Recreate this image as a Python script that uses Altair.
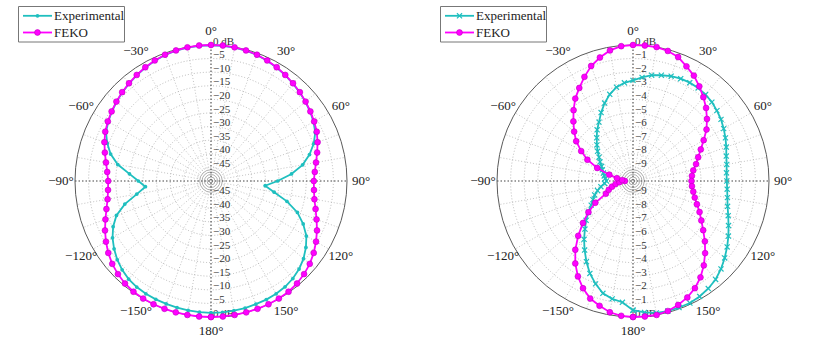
import altair as alt
import pandas as pd

# ---------------- data (dB) ----------------
angles = list(range(-180, 185, 5))

# Left panel: radial scale -50 dB (centre) .. 0 dB (rim)
left_feko = [0, 0, 0, 0, 0, 0, -0.1, -0.3, -0.8, -1.6, -2.6, -3.9, -5.4, -7.0, -8.7, -10.2,
             -11.4, -12.0, -12.2, -11.7, -10.8, -9.6, -8.3, -7.1, -6.2, -5.4, -4.6, -3.8,
             -3.1, -2.4, -1.7, -1.1, -0.6, -0.3, -0.1, 0,
             0,
             0, -0.1, -0.3, -0.6, -1.1, -1.7, -2.4, -3.1, -3.8, -4.6, -5.4, -6.2, -7.1, -8.3,
             -9.6, -10.8, -11.7, -12.2, -12.0, -11.4, -10.2, -8.7, -7.0, -5.4, -3.9, -2.6,
             -1.6, -0.8, -0.3, -0.1, 0, 0, 0, 0, 0, 0]
left_exp = [-1.5, -1.6, -1.7, -1.8, -1.9, -2.0, -2.1, -2.4, -2.9, -3.8, -5.0, -6.5, -8.2,
            -10.3, -13.0, -17.2, -22.3, -25.8, -23.3, -19.9, -15.2, -11.8, -9.4, -7.4, -6.4,
            -5.5, -4.7, -3.9, -3.2, -2.5, -1.8, -1.2, -0.7, -0.4, -0.2, -0.1,
            -0.1,
            -0.1, -0.2, -0.4, -0.7, -1.2, -1.8, -2.5, -3.2, -3.9, -4.7, -5.5, -6.5, -7.7,
            -9.8, -12.5, -15.8, -20.3, -25.5, -30.0, -26.4, -21.1, -16.2, -12.6, -9.5, -7.4,
            -5.6, -4.2, -3.2, -2.5, -2.1, -1.9, -1.8, -1.6, -1.6, -1.5, -1.5]

# Right panel: radial scale -10 dB (centre) .. 0 dB (rim)
right_feko = [0, -0.05, -0.2, -0.5, -0.8, -1.3, -1.9, -2.6, -3.4, -4.3, -5.2, -6.0, -6.8,
              -7.8, -8.1, -8.4, -8.7, -9.0, -9.4, -9.2, -8.8, -8.2, -7.2, -6.3, -5.6, -4.9,
              -4.35, -3.8, -3.2, -2.6, -2.1, -1.55, -1.0, -0.6, -0.25, -0.05,
              0,
              0, 0, -0.1, -0.3, -0.7, -1.05, -1.5, -1.95, -2.4, -2.9, -3.4, -4.0, -4.5, -4.9,
              -5.2, -5.5, -5.65, -5.7, -5.65, -5.5, -5.3, -5.0, -4.6, -4.2, -3.7, -3.1, -2.5,
              -1.9, -1.35, -0.9, -0.55, -0.3, -0.1, 0, 0, 0]
right_exp = [-0.5, -1.05, -1.2, -1.45, -1.95, -2.5, -3.15, -3.8, -4.4, -5.0, -5.5, -6.0,
             -6.45, -6.75, -7.0, -7.3, -7.6, -7.9, -8.05, -7.95, -7.85, -7.75, -7.6, -7.45,
             -7.2, -6.95, -6.6, -6.25, -5.85, -5.4, -5.0, -4.45, -3.9, -3.4, -3.0, -2.75,
             -2.6,
             -2.35, -2.1, -1.95, -1.8, -1.7, -1.65, -1.65, -1.7, -1.8, -1.95, -2.1, -2.3,
             -2.5, -2.7, -2.9, -3.0, -3.1, -3.1, -3.05, -2.95, -2.8, -2.55, -2.25, -1.9,
             -1.55, -1.2, -0.85, -0.55, -0.35, -0.2, -0.1, -0.1, -0.1, -0.15, -0.3, -0.5]

left_ring_levels = [-45, -40, -35, -30, -25, -20, -15, -10, -5]
right_ring_levels = [-9, -8, -7, -6, -5, -4, -3, -2, -1]
left_tick_levels = [0, -5, -10, -15, -20, -25, -30, -35, -40, -45]
left_tick_labels = ["0 dB", "−5", "−10", "−15", "−20", "−25", "−30", "−35", "−40", "−45"]
right_tick_levels = [0, -1, -2, -3, -4, -5, -6, -7, -8, -9]
right_tick_labels = ["0 dB", "−1", "−2", "−3", "−4", "−5", "−6", "−7", "−8", "−9"]
angle_ticks = [0, 30, 60, 90, 120, 150, 180, 210, 240, 270, 300, 330]
angle_tick_labels = ["0°", "30°", "60°", "90°", "120°", "150°", "180°",
                     "−150°", "−120°", "−90°", "−60°", "−30°"]
spoke_angles = [a for a in range(0, 360, 10) if a % 90 != 0]
inner_circle_px = [1.8, 4.0, 6.5, 9.0, 11.3]
series_names = ["Experimental", "FEKO"]

for arr in (left_feko, left_exp, right_feko, right_exp):
    assert len(arr) == len(angles)

# ---------------- layout constants ----------------
R = 136
CY = 181
CYAN = "#1fbfbf"
MAG = "#ff00ff"
SERIF = "Times New Roman, Liberation Serif, DejaVu Serif, serif"
CX_EXPR = "datum.panel == 'A' ? 211 : 633"
DBMIN_EXPR = "datum.panel == 'A' ? -50 : -10"

# ---------------- tables ----------------
curve_rows = []
for panel, feko, exp in (("A", left_feko, left_exp), ("B", right_feko, right_exp)):
    for a, f, e in zip(angles, feko, exp):
        curve_rows.append({"panel": panel, "series": "FEKO", "angle": a, "db": f})
        curve_rows.append({"panel": panel, "series": "Experimental", "angle": a, "db": e})
curves = pd.DataFrame(curve_rows)

rings = pd.DataFrame([{"panel": "A", "db": v} for v in left_ring_levels] +
                     [{"panel": "B", "db": v} for v in right_ring_levels])
outer = pd.DataFrame([{"panel": p, "db": 0} for p in ("A", "B")])
tiny = pd.DataFrame([{"panel": p, "rad": r} for p in ("A", "B") for r in inner_circle_px])
spokes = pd.DataFrame([{"panel": p, "angle": a} for p in ("A", "B") for a in spoke_angles])
axes_df = pd.DataFrame([{"panel": p, "angle": a} for p in ("A", "B") for a in (0, 90)])
rlabels = pd.DataFrame(
    [{"panel": "A", "db": v, "label": t, "side": s}
     for v, t in zip(left_tick_levels, left_tick_labels) for s in (1, -1)] +
    [{"panel": "B", "db": v, "label": t, "side": s}
     for v, t in zip(right_tick_levels, right_tick_labels) for s in (1, -1)])
alabels = pd.DataFrame([{"panel": p, "angle": a, "label": t}
                        for p in ("A", "B") for a, t in zip(angle_ticks, angle_tick_labels)])
legend = pd.DataFrame([{"panel": p, "series": s, "row": i}
                       for p in ("A", "B") for i, s in enumerate(series_names)])
legend_box = pd.DataFrame([{"panel": p} for p in ("A", "B")])

xs = alt.Scale(domain=[0, 825], nice=False, zero=False)
ys = alt.Scale(domain=[0, 349], nice=False, zero=False, reverse=True)


def X(f):
    return alt.X(f, type="quantitative", scale=xs, axis=None)


def Y(f):
    return alt.Y(f, type="quantitative", scale=ys, axis=None)


def polar(ch):
    return (ch.transform_calculate(cx=CX_EXPR, dbmin=DBMIN_EXPR)
              .transform_calculate(r=f"{R} * (datum.db - datum.dbmin) / (-datum.dbmin)")
              .transform_calculate(px="datum.cx + datum.r * sin(datum.angle * PI / 180)",
                                   py=f"{CY} - datum.r * cos(datum.angle * PI / 180)"))


def circles(ch):
    return (ch.transform_calculate(cx=CX_EXPR, dbmin=DBMIN_EXPR)
              .transform_calculate(r=f"{R} * (datum.db - datum.dbmin) / (-datum.dbmin)")
              .transform_calculate(size="4 * datum.r * datum.r", cy=f"{CY}"))


# grid rings
ring_layer = circles(alt.Chart(rings).mark_point(
    shape="circle", filled=False, color="#a8a8a8", strokeWidth=0.8,
    strokeDash=[1, 2], opacity=1)).encode(
    x=X("cx"), y=Y("cy"), size=alt.Size("size:Q", scale=None))

outer_layer = circles(alt.Chart(outer).mark_point(
    shape="circle", filled=False, color="#5a5a5a", strokeWidth=1, opacity=1)).encode(
    x=X("cx"), y=Y("cy"), size=alt.Size("size:Q", scale=None))

tiny_layer = alt.Chart(tiny).mark_point(
    shape="circle", filled=False, color="#8a8a8a", strokeWidth=0.7, opacity=1).transform_calculate(
    cx=CX_EXPR, cy=f"{CY}", size="4 * datum.rad * datum.rad").encode(
    x=X("cx"), y=Y("cy"), size=alt.Size("size:Q", scale=None))

spoke_layer = alt.Chart(spokes).mark_rule(
    color="#b4b4b4", strokeWidth=0.8, strokeDash=[1, 2]).transform_calculate(
    cx=CX_EXPR).transform_calculate(
    x1=f"datum.cx + {R / 10} * sin(datum.angle * PI / 180)",
    y1=f"{CY} - {R / 10} * cos(datum.angle * PI / 180)",
    x2=f"datum.cx + {R} * sin(datum.angle * PI / 180)",
    y2=f"{CY} - {R} * cos(datum.angle * PI / 180)").encode(
    x=X("x1"), y=Y("y1"), x2="x2:Q", y2="y2:Q")

axis_layer = alt.Chart(axes_df).mark_rule(
    color="#444444", strokeWidth=1.1, strokeDash=[1.5, 2]).transform_calculate(
    cx=CX_EXPR).transform_calculate(
    x1=f"datum.cx - {R} * sin(datum.angle * PI / 180)",
    y1=f"{CY} + {R} * cos(datum.angle * PI / 180)",
    x2=f"datum.cx + {R} * sin(datum.angle * PI / 180)",
    y2=f"{CY} - {R} * cos(datum.angle * PI / 180)").encode(
    x=X("x1"), y=Y("y1"), x2="x2:Q", y2="y2:Q")

rlabel_layer = (alt.Chart(rlabels).mark_text(
    align="left", baseline="alphabetic", font=SERIF, fontSize=11, color="#333333", dy=-0.5)
    .transform_calculate(cx=CX_EXPR, dbmin=DBMIN_EXPR)
    .transform_calculate(r=f"{R} * (datum.db - datum.dbmin) / (-datum.dbmin)")
    .transform_calculate(tx="datum.cx + 2", ty=f"{CY} - datum.side * datum.r")
    .encode(x=X("tx"), y=Y("ty"), text="label:N"))

alabel_layer = (alt.Chart(alabels).mark_text(
    align="center", baseline="middle", font=SERIF, fontSize=13, color="#222222")
    .transform_calculate(cx=CX_EXPR)
    .transform_calculate(tx="datum.cx + 150 * sin(datum.angle * PI / 180)",
                         ty=f"{CY} - 150 * cos(datum.angle * PI / 180)")
    .encode(x=X("tx"), y=Y("ty"), text="label:N"))

# data curves
base = polar(alt.Chart(curves))
exp_line = base.transform_filter("datum.series == 'Experimental'").mark_line(
    color=CYAN, strokeWidth=1.8).encode(
    x=X("px"), y=Y("py"), order=alt.Order("angle:Q"), detail="panel:N")
exp_dots = base.transform_filter(
    "datum.series == 'Experimental' && datum.panel == 'A'").mark_circle(
    color=CYAN, size=14, opacity=1).encode(x=X("px"), y=Y("py"))
exp_cross = base.transform_filter(
    "datum.series == 'Experimental' && datum.panel == 'B'").mark_point(
    shape="M-1,-1L1,1M-1,1L1,-1", filled=False, color=CYAN, size=26,
    strokeWidth=1.2, opacity=1).encode(x=X("px"), y=Y("py"))
feko_line = base.transform_filter("datum.series == 'FEKO'").mark_line(
    color=MAG, strokeWidth=1.8).encode(
    x=X("px"), y=Y("py"), order=alt.Order("angle:Q"), detail="panel:N")
feko_pts = base.transform_filter("datum.series == 'FEKO'").mark_point(
    shape="circle", filled=True, fill=MAG, stroke="#c000c0", strokeWidth=0.6,
    size=34, opacity=1).encode(x=X("px"), y=Y("py"))

# legend (box, sample lines, markers, text)
box_layer = alt.Chart(legend_box).mark_rect(
    fill="white", stroke="#777777", strokeWidth=1).transform_calculate(
    cx=CX_EXPR).transform_calculate(
    bx1="datum.cx - 192.5", bx2="datum.cx - 86.5", by1="6.5", by2="42").encode(
    x=X("bx1"), x2="bx2:Q", y=Y("by1"), y2="by2:Q")

leg = alt.Chart(legend).transform_calculate(cx=CX_EXPR).transform_calculate(
    lx1="datum.cx - 188", lx2="datum.cx - 159", mx="datum.cx - 173.5",
    tx="datum.cx - 157", ly="15.8 + 16.7 * datum.row")
leg_exp_line = leg.transform_filter("datum.series == 'Experimental'").mark_rule(
    color=CYAN, strokeWidth=1.8).encode(x=X("lx1"), x2="lx2:Q", y=Y("ly"))
leg_feko_line = leg.transform_filter("datum.series == 'FEKO'").mark_rule(
    color=MAG, strokeWidth=1.8).encode(x=X("lx1"), x2="lx2:Q", y=Y("ly"))
leg_exp_dot = leg.transform_filter(
    "datum.series == 'Experimental' && datum.panel == 'A'").mark_circle(
    color=CYAN, size=14, opacity=1).encode(x=X("mx"), y=Y("ly"))
leg_exp_cross = leg.transform_filter(
    "datum.series == 'Experimental' && datum.panel == 'B'").mark_point(
    shape="M-1,-1L1,1M-1,1L1,-1", filled=False, color=CYAN, size=26,
    strokeWidth=1.2, opacity=1).encode(x=X("mx"), y=Y("ly"))
leg_feko_pt = leg.transform_filter("datum.series == 'FEKO'").mark_point(
    shape="circle", filled=True, fill=MAG, stroke="#c000c0", strokeWidth=0.6,
    size=34, opacity=1).encode(x=X("mx"), y=Y("ly"))
leg_text = leg.mark_text(align="left", baseline="middle", font=SERIF, fontSize=13,
                         color="#222222").encode(x=X("tx"), y=Y("ly"), text="series:N")

chart = alt.layer(
    ring_layer, spoke_layer, tiny_layer, axis_layer, outer_layer, rlabel_layer,
    alabel_layer, exp_line, exp_dots, exp_cross, feko_line, feko_pts,
    box_layer, leg_exp_line, leg_feko_line, leg_exp_dot, leg_exp_cross, leg_feko_pt,
    leg_text,
).properties(
    width=825, height=349,
    autosize=alt.AutoSizeParams(type="none"),
    padding=0,
    background="white",
).configure_view(stroke=None)

chart.save("out.html", embed_options={"renderer": "svg", "actions": False})
